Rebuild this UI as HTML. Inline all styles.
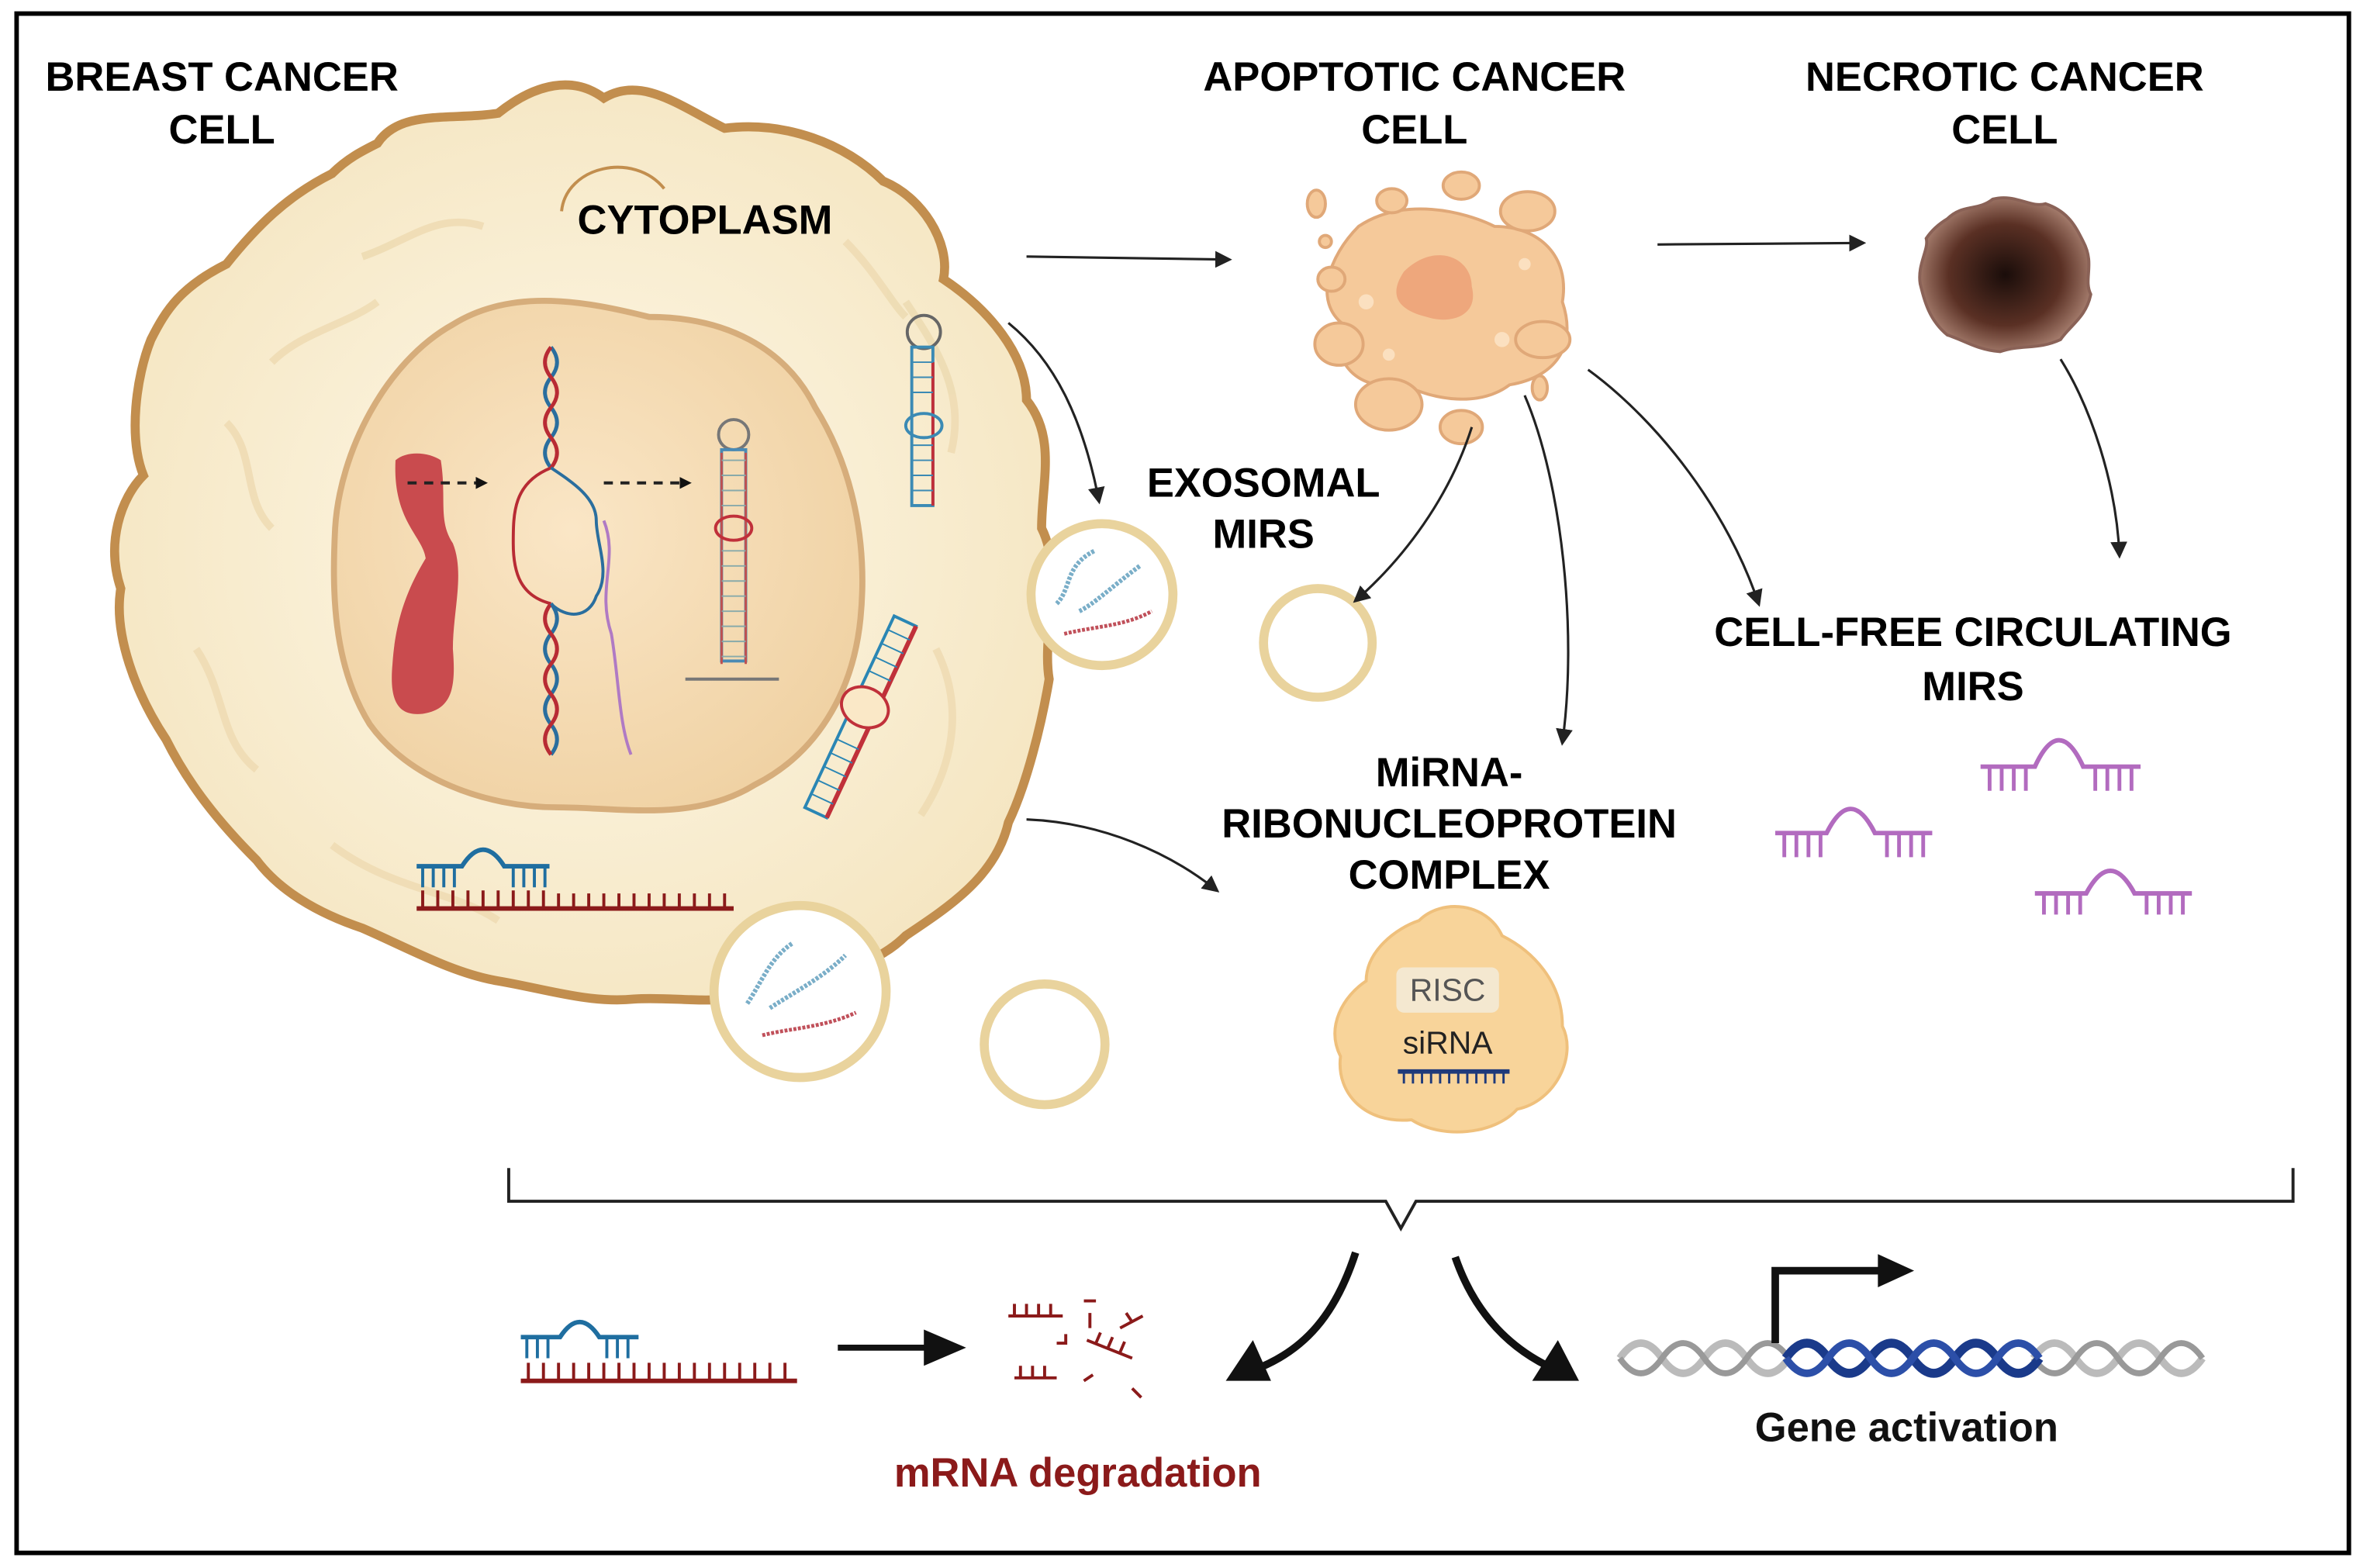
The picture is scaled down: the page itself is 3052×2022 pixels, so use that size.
<!DOCTYPE html>
<html><head><meta charset="utf-8"><style>
html,body{margin:0;padding:0;background:#fff}
svg{display:block}
text{font-family:"Liberation Sans",sans-serif;font-weight:bold}
</style></head><body>
<svg width="3052" height="2022" viewBox="0 0 1568 1039" preserveAspectRatio="none" xmlns="http://www.w3.org/2000/svg">
<defs>
<marker id="ah" viewBox="0 0 10 10" refX="8" refY="5" markerWidth="7" markerHeight="7" orient="auto"><path d="M0,0L10,5L0,10z" fill="#222"/></marker>
<marker id="ahb" viewBox="0 0 10 10" refX="6" refY="5" markerWidth="4" markerHeight="4" orient="auto"><path d="M0,0L10,5L0,10z" fill="#111"/></marker>
<radialGradient id="cg" cx="50%" cy="50%" r="55%"><stop offset="0" stop-color="#fef8e8"/><stop offset="1" stop-color="#f5e6c2"/></radialGradient>
<radialGradient id="ng" cx="45%" cy="45%" r="60%"><stop offset="0" stop-color="#fae6c6"/><stop offset="1" stop-color="#f0d2a4"/></radialGradient>
<radialGradient id="nc" cx="50%" cy="50%" r="55%"><stop offset="0" stop-color="#1a0d0a"/><stop offset="0.6" stop-color="#5a3024"/><stop offset="1" stop-color="#b08878"/></radialGradient>
</defs>
<rect x="11" y="9" width="1545" height="1020" fill="#fff" stroke="#000" stroke-width="3"/>

<path d="M250,95 C265,72 300,80 330,75 C355,55 380,50 400,65 C425,50 450,70 480,85 C520,80 560,95 585,120 C610,130 630,160 625,185 C655,205 680,235 680,265 C700,290 690,320 690,350 C705,380 690,420 695,450 C690,480 680,520 668,545 C660,580 630,600 600,620 C575,645 540,645 515,655 C480,668 450,660 420,662 C390,665 360,655 330,650 C300,645 270,628 240,615 C210,605 185,590 170,570 C145,545 125,520 110,490 C90,460 75,420 80,390 C70,360 80,330 95,315 C85,290 90,250 100,225 C110,205 120,190 150,175 C170,150 190,130 220,115 C230,105 240,100 250,95 Z" fill="url(#cg)" stroke="#c28e4e" stroke-width="6"/>
<g fill="none" stroke="#eddab0" stroke-width="5" opacity="0.8">
<path d="M150,280 C170,300 160,330 180,350"/><path d="M130,430 C150,460 145,490 170,510"/><path d="M240,170 C270,160 290,140 320,150"/>
<path d="M600,200 C620,230 640,260 630,300"/><path d="M620,430 C640,470 630,510 610,540"/><path d="M220,560 C260,590 300,590 330,610"/>
<path d="M180,240 C200,220 230,215 250,200"/><path d="M560,160 C580,180 590,200 600,210"/>
</g>
<path d="M372,140 C375,110 420,100 440,125" fill="none" stroke="#c28e4e" stroke-width="2"/>
<path d="M300,215 C340,190 390,200 430,210 C480,210 520,230 540,270 C565,310 575,360 570,410 C565,460 540,500 500,520 C460,545 410,535 370,535 C320,535 270,515 245,480 C220,440 220,390 222,350 C225,300 255,240 300,215 Z" fill="url(#ng)" stroke="#d6ad7b" stroke-width="4"/>
<path d="M262,305 C270,298 285,300 292,305 C296,330 290,345 300,360 C308,380 300,405 300,430 C302,455 300,470 280,473 C262,475 258,462 260,440 C262,410 270,390 282,370 C280,355 260,345 262,305 Z" fill="#c94b4e"/>
<line x1="270" y1="320" x2="320" y2="320" stroke="#222" stroke-width="2" stroke-dasharray="6,5" marker-end="url(#ahb)"/>
<line x1="400" y1="320" x2="455" y2="320" stroke="#222" stroke-width="2" stroke-dasharray="6,5" marker-end="url(#ahb)"/>
<path d="M365,230 q8,10 0,20 q-8,10 0,20 q8,10 0,20 q-8,10 0,20 M365,400 q8,10 0,20 q-8,10 0,20 q8,10 0,20 q-8,10 0,20 q8,10 0,20" fill="none" stroke="#2a6e9e" stroke-width="2.5"/>
<path d="M365,230 q-8,10 0,20 q8,10 0,20 q-8,10 0,20 q8,10 0,20 M365,400 q-8,10 0,20 q8,10 0,20 q-8,10 0,20 q8,10 0,20 q-8,10 0,20" fill="none" stroke="#b82b34" stroke-width="2.5"/>
<path d="M365,310 C340,320 340,340 340,360 C340,380 345,395 365,400" fill="none" stroke="#b82b34" stroke-width="2"/>
<path d="M365,310 C380,320 395,330 395,345 C395,360 405,380 395,395 C390,410 375,410 365,400" fill="none" stroke="#2a6e9e" stroke-width="2"/>
<path d="M400,345 C410,370 395,390 405,420 C410,450 410,480 418,500" fill="none" stroke="#b07ac4" stroke-width="2"/>
<circle cx="486" cy="288" r="10" fill="none" stroke="#777" stroke-width="2"/>
<rect x="478" y="298" width="16" height="140" fill="none" stroke="#4a8ab4" stroke-width="2"/>
<path d="M478,300 v140 M494,300 v140" stroke="#c05050" stroke-width="1.5"/>
<ellipse cx="486" cy="350" rx="12" ry="8" fill="none" stroke="#c0303a" stroke-width="2"/>
<line x1="454" y1="450" x2="516" y2="450" stroke="#777" stroke-width="2"/>
<g stroke="#8aa" stroke-width="1"><path d="M478,305h16M478,315h16M478,325h16M478,335h16M478,365h16M478,375h16M478,385h16M478,395h16M478,405h16M478,415h16M478,425h16M478,435h16"/></g>
<circle cx="612" cy="220" r="11" fill="none" stroke="#666" stroke-width="2"/>
<rect x="604" y="230" width="14" height="105" fill="none" stroke="#3b8ab4" stroke-width="2"/>
<line x1="618" y1="240" x2="618" y2="335" stroke="#c0303a" stroke-width="2"/>
<g stroke="#3b8ab4" stroke-width="1"><path d="M604,240h14M604,250h14M604,260h14M604,295h14M604,305h14M604,315h14M604,325h14"/></g>
<ellipse cx="612" cy="282" rx="12" ry="8" fill="none" stroke="#3b8ab4" stroke-width="2"/>
<g transform="rotate(25 570 475)">
<rect x="562" y="405" width="16" height="140" fill="none" stroke="#2a86b4" stroke-width="2"/>
<line x1="578" y1="405" x2="578" y2="545" stroke="#c0303a" stroke-width="3"/>
<g stroke="#2a86b4"><path d="M562,415h16M562,425h16M562,435h16M562,445h16M562,495h16M562,505h16M562,515h16M562,525h16M562,535h16"/></g>
<ellipse cx="570" cy="468" rx="16" ry="13" fill="#fae8c7" stroke="#c0303a" stroke-width="2"/>
</g>
<path d="M276,574 h30 q14,-22 28,0 h30" fill="none" stroke="#1f6ea0" stroke-width="3"/>
<g stroke="#1f6ea0" stroke-width="2"><path d="M280,574v14M287,574v14M294,574v14M301,574v14M340,574v14M347,574v14M354,574v14M361,574v14"/></g>
<line x1="276" y1="602" x2="486" y2="602" stroke="#8b1a1a" stroke-width="3"/>
<path d="M280,602v-12M290,602v-12M300,602v-12M310,602v-12M320,602v-12M330,602v-12M340,602v-12M350,602v-12M360,602v-12M370,602v-10M380,602v-10M390,602v-10M400,602v-10M410,602v-10M420,602v-10M430,602v-10M440,602v-10M450,602v-10M460,602v-10M470,602v-10M480,602v-10" stroke="#8b1a1a" stroke-width="2"/>

<circle cx="730" cy="394" r="47" fill="#fff" stroke="#e9d39d" stroke-width="6"/>
<path d="M700,400 c10,-10 5,-25 25,-35 M715,405 c10,-5 20,-15 40,-30" fill="none" stroke="#7aaec8" stroke-width="3" stroke-dasharray="2,1"/>
<path d="M705,420 c20,-5 40,-5 58,-15" fill="none" stroke="#c0505a" stroke-width="2.5" stroke-dasharray="2,1"/>
<circle cx="530" cy="657" r="57" fill="#fff" stroke="#e9d39d" stroke-width="6"/>
<path d="M495,665 c10,-15 15,-30 30,-40 M510,668 c15,-10 35,-20 50,-35" fill="none" stroke="#7aaec8" stroke-width="3" stroke-dasharray="2,1"/>
<path d="M505,686 c20,-5 40,-5 62,-15" fill="none" stroke="#c0505a" stroke-width="2.5" stroke-dasharray="2,1"/>
<circle cx="692" cy="692" r="40" fill="#fff" stroke="#e9d39d" stroke-width="6"/>
<circle cx="873" cy="426" r="36" fill="#fff" stroke="#e9d39d" stroke-width="6"/>

<text x="147" y="60" font-size="27" text-anchor="middle">BREAST CANCER</text>
<text x="147" y="95" font-size="27" text-anchor="middle">CELL</text>
<text x="467" y="155" font-size="27" text-anchor="middle">CYTOPLASM</text>
<text x="937" y="60" font-size="27" text-anchor="middle">APOPTOTIC CANCER</text>
<text x="937" y="95" font-size="27" text-anchor="middle">CELL</text>
<text x="1328" y="60" font-size="27" text-anchor="middle">NECROTIC CANCER</text>
<text x="1328" y="95" font-size="27" text-anchor="middle">CELL</text>
<text x="837" y="329" font-size="27" text-anchor="middle">EXOSOMAL</text>
<text x="837" y="363" font-size="27" text-anchor="middle">MIRS</text>
<text x="1307" y="428" font-size="27" text-anchor="middle">CELL-FREE CIRCULATING</text>
<text x="1307" y="464" font-size="27" text-anchor="middle">MIRS</text>
<text x="960" y="521" font-size="27" text-anchor="middle">MiRNA-</text>
<text x="960" y="555" font-size="27" text-anchor="middle">RIBONUCLEOPROTEIN</text>
<text x="960" y="589" font-size="27" text-anchor="middle">COMPLEX</text>

<g fill="#f5c99a" stroke="#e0a878" stroke-width="2">
<path d="M900,150 C930,130 970,140 990,150 C1020,150 1040,170 1035,200 C1045,230 1030,250 1000,255 C980,270 950,265 930,255 C900,260 880,240 890,215 C870,200 880,170 900,150 Z"/>
<ellipse cx="872" cy="135" rx="6" ry="9"/><ellipse cx="922" cy="133" rx="10" ry="8"/><ellipse cx="968" cy="123" rx="12" ry="9"/>
<ellipse cx="1012" cy="140" rx="18" ry="13"/><ellipse cx="882" cy="185" rx="9" ry="8"/><ellipse cx="887" cy="228" rx="16" ry="14"/>
<ellipse cx="920" cy="268" rx="22" ry="17"/><ellipse cx="968" cy="283" rx="14" ry="11"/><ellipse cx="1022" cy="225" rx="18" ry="12"/>
<ellipse cx="1020" cy="257" rx="5" ry="8"/><ellipse cx="878" cy="160" rx="4" ry="4"/>
</g>
<g fill="#fbe0c0"><circle cx="905" cy="200" r="5"/><circle cx="1010" cy="175" r="4"/><circle cx="995" cy="225" r="5"/><circle cx="920" cy="235" r="4"/></g>
<path d="M930,180 C950,160 975,170 975,190 C980,210 960,215 945,210 C925,205 920,195 930,180Z" fill="#eea77c"/>
<path d="M1290,145 C1300,135 1310,140 1320,132 C1335,128 1345,138 1355,135 C1370,140 1375,150 1380,160 C1388,175 1380,185 1385,195 C1382,210 1372,215 1365,225 C1350,232 1340,228 1325,233 C1310,232 1300,225 1290,222 C1278,212 1275,200 1272,188 C1270,175 1278,165 1276,158 C1280,152 1285,148 1290,145Z" fill="url(#nc)" stroke="#8a6257" stroke-width="2"/>

<g fill="none" stroke="#222" stroke-width="1.6" marker-end="url(#ah)">
<line x1="680" y1="170" x2="814" y2="172"/>
<line x1="1098" y1="162" x2="1234" y2="161"/>
<path d="M668,214 C700,240 718,280 728,332"/>
<path d="M975,283 C960,330 930,370 898,398"/>
<path d="M1010,262 C1035,320 1045,420 1035,492"/>
<path d="M1052,245 C1100,280 1145,340 1165,400"/>
<path d="M1365,238 C1385,270 1402,320 1404,368"/>
<path d="M680,543 C730,545 775,565 806,590"/>
</g>

<g fill="none" stroke="#b26bbf" stroke-width="3">
<path d="M1312,508 h36 q16,-35 32,0 h38 M1176,552 h34 q16,-32 32,0 h38 M1348,592 h34 q16,-30 32,0 h38"/>
<path d="M1318,508v16M1326,508v16M1334,508v16M1342,508v16M1388,508v16M1396,508v16M1404,508v16M1412,508v16 M1182,552v16M1190,552v16M1198,552v16M1206,552v16M1250,552v16M1258,552v16M1266,552v16M1274,552v16 M1354,592v14M1362,592v14M1370,592v14M1378,592v14M1422,592v14M1430,592v14M1438,592v14M1446,592v14" stroke-width="2.5"/>
</g>

<path d="M940,610 C955,595 985,598 995,620 C1015,630 1035,650 1035,680 C1045,700 1030,730 1005,735 C990,752 955,755 935,742 C905,745 885,725 888,700 C878,680 890,660 905,650 C905,630 925,615 940,610Z" fill="#f8d49a" stroke="#efc07c" stroke-width="2"/>
<rect x="925" y="641" width="68" height="30" rx="5" fill="#f3ead6" opacity="0.9"/>
<text x="959" y="663" font-size="21" fill="#555" text-anchor="middle" style="font-weight:normal">RISC</text>
<text x="959" y="698" font-size="21" fill="#222" text-anchor="middle" style="font-weight:normal">siRNA</text>
<line x1="926" y1="710" x2="1000" y2="710" stroke="#1f3a7a" stroke-width="3"/>
<path d="M930,710v8M936,710v8M942,710v8M948,710v8M954,710v8M960,710v8M966,710v8M972,710v8M978,710v8M984,710v8M990,710v8M996,710v8" stroke="#1f3a7a" stroke-width="1.5"/>

<path d="M337,774 V796 H918 L928,814 L938,796 H1519 V774" fill="none" stroke="#222" stroke-width="2"/>

<path d="M345,886 h26 q13,-20 26,0 h26" fill="none" stroke="#1f6ea0" stroke-width="3"/>
<path d="M349,886v14M356,886v14M363,886v14M402,886v14M409,886v14M416,886v14" stroke="#1f6ea0" stroke-width="2"/>
<line x1="345" y1="915" x2="528" y2="915" stroke="#8b1a1a" stroke-width="3"/>
<path d="M350,915v-12M360,915v-12M370,915v-12M380,915v-12M390,915v-12M400,915v-12M410,915v-12M420,915v-12M430,915v-12M440,915v-12M450,915v-12M460,915v-12M470,915v-12M480,915v-12M490,915v-12M500,915v-12M510,915v-12M520,915v-12" stroke="#8b1a1a" stroke-width="2"/>
<line x1="555" y1="893" x2="618" y2="893" stroke="#111" stroke-width="4"/>
<path d="M612,881 L640,893 L612,905Z" fill="#111"/>
<g stroke="#8b1a1a" stroke-width="2" fill="none">
<path d="M668,872 h36 M672,872v-8M680,872v-8M688,872v-8M696,872v-8"/>
<path d="M672,913 h28 M676,913v-8M684,913v-8M692,913v-8"/>
<path d="M722,870 v10 M718,862 h8"/><path d="M720,888 l30,12 M726,890 l3,-7 M734,893 l3,-7 M742,896 l3,-7"/>
<path d="M742,880 l15,-8 M750,876 l-4,-6"/><path d="M700,890 h6 v-6"/><path d="M718,915 l6,-4"/><path d="M750,920 l6,6"/>
</g>
<text x="714" y="985" font-size="27" fill="#8b1a1a" text-anchor="middle">mRNA degradation</text>
<path d="M898,830 C885,870 865,895 830,908" fill="none" stroke="#111" stroke-width="5"/>
<path d="M812,915 L830,888 L842,915Z" fill="#111"/>
<path d="M964,833 C975,865 995,890 1025,905" fill="none" stroke="#111" stroke-width="5"/>
<path d="M1046,915 L1015,915 L1032,888Z" fill="#111"/>
<path d="M1073,900 q14,-20 28,0 q14,20 28,0 q14,-20 28,0 q14,20 28,0 M1347,900 q14,-20 28,0 q14,20 28,0 q14,-20 28,0 q14,20 28,0" fill="none" stroke="#bbb" stroke-width="5"/>
<path d="M1073,900 q14,20 28,0 q14,-20 28,0 q14,20 28,0 q14,-20 28,0 M1347,900 q14,20 28,0 q14,-20 28,0 q14,20 28,0 q14,-20 28,0" fill="none" stroke="#999" stroke-width="4"/>
<path d="M1183,900 q14,-20 28,0 q14,20 28,0 q14,-20 28,0 q14,20 28,0 q14,-20 28,0 q14,20 28,0" fill="none" stroke="#1a3a8a" stroke-width="6"/>
<path d="M1183,900 q14,20 28,0 q14,-20 28,0 q14,20 28,0 q14,-20 28,0 q14,20 28,0 q14,-20 28,0" fill="none" stroke="#2c4fa8" stroke-width="5"/>
<path d="M1176,890 V842 H1248" fill="none" stroke="#111" stroke-width="5"/>
<path d="M1244,831 L1268,842 L1244,853Z" fill="#111"/>
<text x="1263" y="955" font-size="27" fill="#111" text-anchor="middle">Gene activation</text>
</svg>
</body></html>
